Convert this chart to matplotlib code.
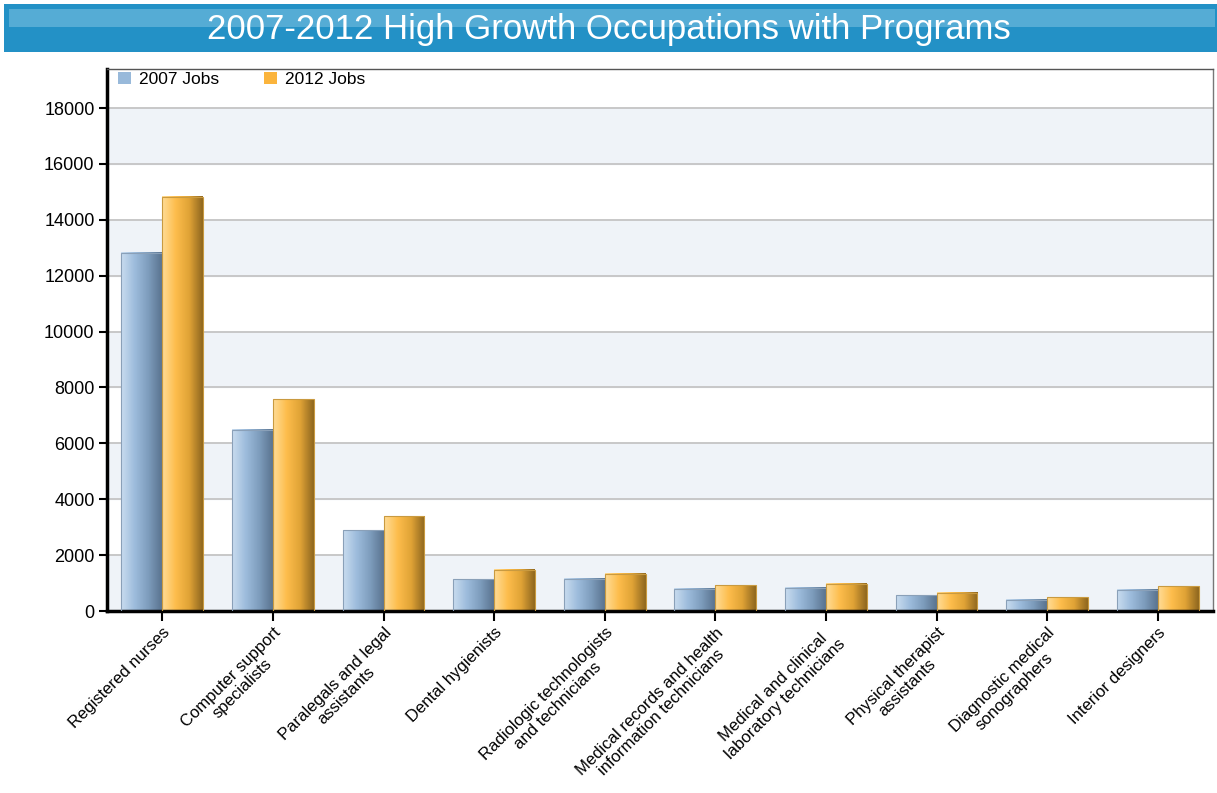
import matplotlib.pyplot as plt
import numpy as np
from matplotlib.patches import Rectangle
from matplotlib.colors import LinearSegmentedColormap

plt.rcParams['font.family'] = ['Liberation Sans', 'DejaVu Sans']

occupations = ['Registered nurses', 'Computer support\nspecialists', 'Paralegals and legal\nassistants',
               'Dental hygienists', 'Radiologic technologists\nand technicians',
               'Medical records and health\ninformation technicians', 'Medical and clinical\nlaboratory technicians',
               'Physical therapist\nassistants', 'Diagnostic medical\nsonographers', 'Interior designers']
jobs_2007 = [12830, 6490, 2890, 1140, 1160, 790, 830, 560, 400, 760]
jobs_2012 = [14820, 7580, 3400, 1470, 1330, 930, 970, 660, 490, 880]
yticks = [0, 2000, 4000, 6000, 8000, 10000, 12000, 14000, 16000, 18000]

blue_cm = LinearSegmentedColormap.from_list('b', ['#c9dcef', '#9dbcdc', '#7e9dbd', '#5a7490'])
orange_cm = LinearSegmentedColormap.from_list('o', ['#ffdc96', '#fdbd4c', '#e0a336', '#8f671f'])
grad = np.linspace(0, 1, 64).reshape(1, -1)

W, H = 1217, 793
fig = plt.figure(figsize=(W/100, H/100), dpi=100)

# title banner
fig.patches.append(Rectangle((4/W, 1-52/H), 1213/W, 48/H, transform=fig.transFigure,
                             facecolor='#2391c6', edgecolor='none', zorder=0))
fig.patches.append(Rectangle((9/W, 1-27/H), 1206/W, 18/H, transform=fig.transFigure,
                             facecolor='#55acd5', edgecolor='none', zorder=0))
fig.text(0.5, 1-29/H, '2007-2012 High Growth Occupations with Programs', color='white',
         fontsize=25, ha='center', va='center')

ax = fig.add_axes([107/W, 1-611/H, 1106/W, 542/H])
n = len(occupations)
x = np.arange(n)
w = 0.37

# alternating bands
for i in range(0, len(yticks)-1, 2):
    ax.axhspan(yticks[i], yticks[i+1], color='#eff3f8', zorder=0)
for t in yticks[1:]:
    ax.axhline(t, color='#c4c4c4', lw=1.3, zorder=1)

for xi, v1, v2 in zip(x, jobs_2007, jobs_2012):
    ax.imshow(grad, cmap=blue_cm, aspect='auto', extent=(xi-w, xi, 0, v1), zorder=2)
    ax.imshow(grad, cmap=orange_cm, aspect='auto', extent=(xi, xi+w, 0, v2), zorder=2)
    ax.add_patch(Rectangle((xi-w, 0), w, v1, fill=False, edgecolor='#8aa0b8', lw=0.8, zorder=3))
    ax.add_patch(Rectangle((xi, 0), w, v2, fill=False, edgecolor='#c99a40', lw=0.8, zorder=3))
ax.set_xlim(-0.5, n-0.5)
ax.set_ylim(0, 19400)

ax.bar([0], [0], color='#98b9da', label='2007 Jobs')
ax.bar([0], [0], color='#fbb43c', label='2012 Jobs')
ax.legend(loc='upper left', ncol=2, frameon=False, fontsize=12.5, handlelength=0.75,
          handleheight=0.75, columnspacing=2.6, handletextpad=0.45,
          bbox_to_anchor=(0.0, 1.016), borderaxespad=0.25)

ax.set_yticks(yticks)
ax.set_xticks(x)
ax.set_xticklabels(occupations, rotation=45, ha='right', rotation_mode='anchor',
                   multialignment='center', fontsize=12, linespacing=1.1)
ax.tick_params(axis='y', labelsize=13, length=6, width=1.5, direction='out', pad=3)
ax.tick_params(axis='x', length=7, width=1.5, direction='out', pad=3)
for s in ['left', 'bottom']:
    ax.spines[s].set_linewidth(2.5)
ax.spines['top'].set_linewidth(1)
ax.spines['top'].set_color('#555555')
ax.spines['right'].set_linewidth(1)
ax.spines['right'].set_color('#777777')

fig.savefig('out.png', dpi=100)
